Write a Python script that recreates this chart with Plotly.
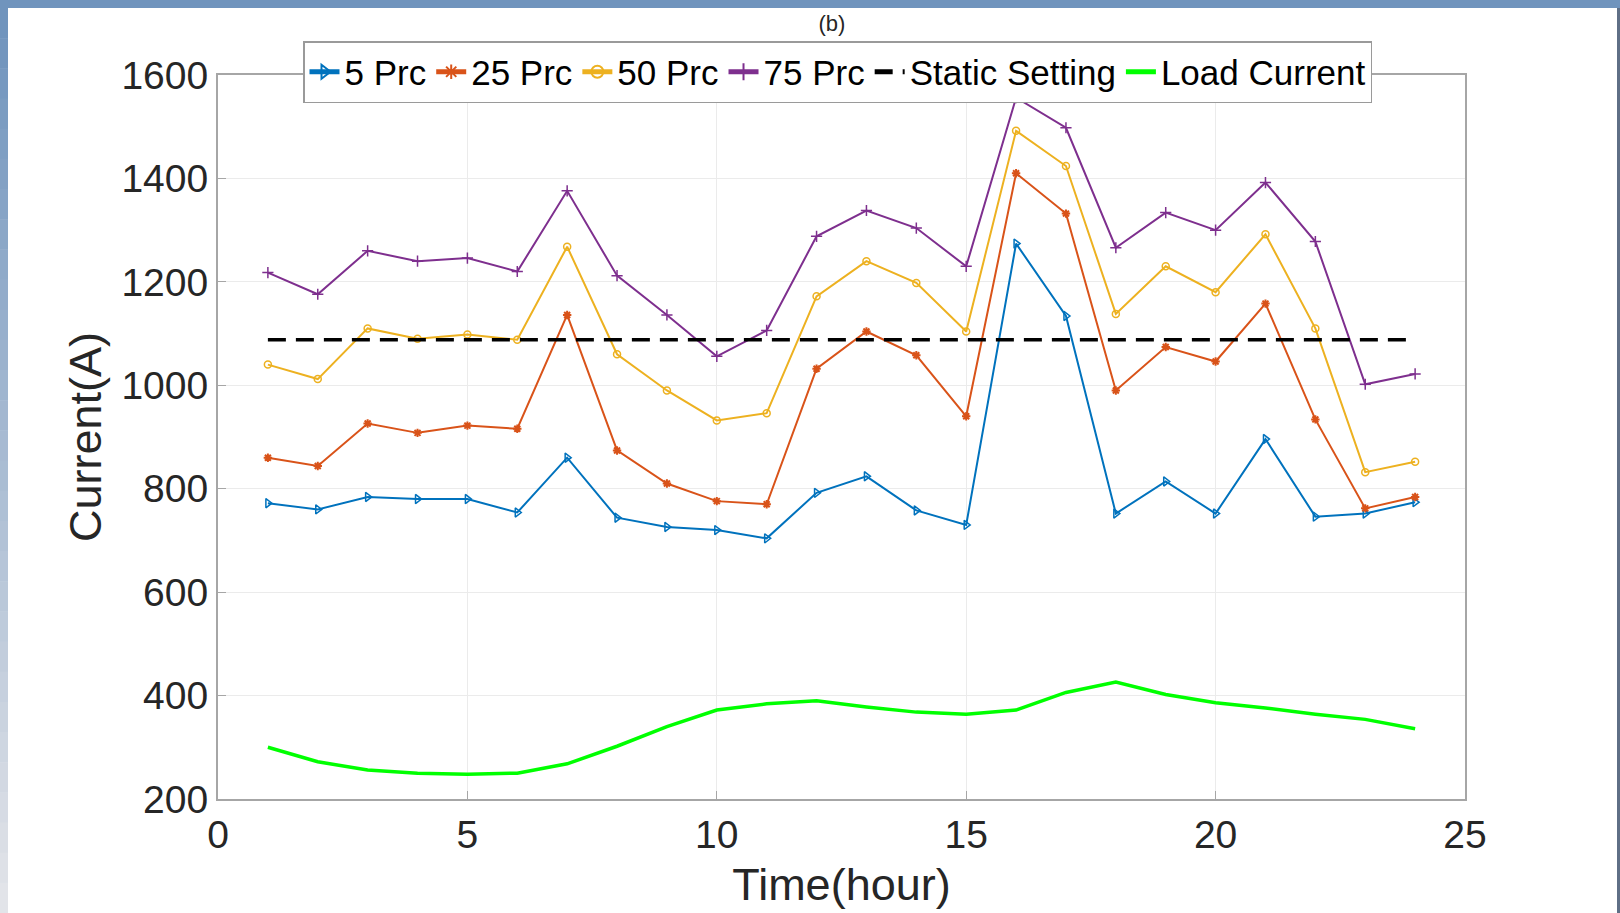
import plotly.graph_objects as go

hours = list(range(1, 25))
prc5 = [772, 760, 784, 780, 780, 754, 860, 744, 726, 720, 704, 792,
        824, 758, 730, 1274, 1134, 752, 814, 752, 896, 746, 752, 774]
prc25 = [860, 844, 926, 908, 922, 916, 1136, 874, 810, 776, 770, 1032,
         1104, 1058, 940, 1410, 1332, 990, 1074, 1046, 1158, 934, 762, 784]
prc50 = [1040, 1012, 1110, 1090, 1098, 1088, 1268, 1060, 990, 932, 946, 1172,
         1240, 1198, 1104, 1492, 1424, 1138, 1230, 1180, 1292, 1110, 832, 852]
prc75 = [1218, 1176, 1260, 1240, 1246, 1220, 1376, 1212, 1136, 1056, 1106, 1288,
         1338, 1304, 1230, 1556, 1498, 1266, 1334, 1300, 1392, 1278, 1002, 1022]
static_setting = [1088] * 24
load_current = [300, 272, 256, 250, 248, 250, 268, 302, 340, 372, 384, 390,
                378, 368, 364, 372, 406, 426, 402, 386, 376, 364, 354, 336]

x_ticks = [0, 5, 10, 15, 20, 25]
y_ticks = [200, 400, 600, 800, 1000, 1200, 1400, 1600]

FONT = "Liberation Sans, Arial, sans-serif"

fig = go.Figure()
fig.add_trace(go.Scatter(x=hours, y=prc5, name="5 Prc", mode="lines+markers",
                         line=dict(color="#0072BD", width=2),
                         marker=dict(symbol="triangle-right-open", size=8, color="#0072BD",
                                     line=dict(width=1.5))))
fig.add_trace(go.Scatter(x=hours, y=prc25, name="25 Prc", mode="lines+markers",
                         line=dict(color="#D95319", width=2),
                         marker=dict(symbol="asterisk-open", size=7, color="#D95319",
                                     line=dict(width=2, color="#D95319"))))
fig.add_trace(go.Scatter(x=hours, y=prc50, name="50 Prc", mode="lines+markers",
                         line=dict(color="#EDB120", width=2),
                         marker=dict(symbol="circle-open", size=7, color="#EDB120",
                                     line=dict(width=1.5))))
fig.add_trace(go.Scatter(x=hours, y=prc75, name="75 Prc", mode="lines+markers",
                         line=dict(color="#7E2F8E", width=2),
                         marker=dict(symbol="cross-thin-open", size=8, color="#7E2F8E",
                                     line=dict(width=1.5, color="#7E2F8E"))))
fig.add_trace(go.Scatter(x=hours, y=static_setting, name="Static Setting", mode="lines",
                         line=dict(color="black", width=3.5, dash="18px,10px")))
fig.add_trace(go.Scatter(x=hours, y=load_current, name="Load Current", mode="lines",
                         line=dict(color="#00FF00", width=3.5)))

# layout geometry
W, H = 1620, 913
L, R, T, B = 218, 155, 75, 114
pw, ph = W - L - R, H - T - B

def px(xp):
    return (xp - L) / pw

def py(yp):
    return 1 - (yp - T) / ph

shapes = []
shapes.append(dict(type="rect", xref="paper", yref="paper", x0=px(0), x1=px(W),
                   y0=py(8), y1=py(0), fillcolor="#7094bd", line=dict(width=0), layer="below"))
n = 30
c0 = (0x70, 0x94, 0xbd)
c1 = (0xe2, 0xe4, 0xe9)
for i in range(n):
    t = i / (n - 1)
    c = tuple(int(c0[k] + (c1[k] - c0[k]) * t) for k in range(3))
    y0 = 8 + (H - 8) * i / n
    y1 = 8 + (H - 8) * (i + 1) / n
    shapes.append(dict(type="rect", xref="paper", yref="paper", x0=px(0), x1=px(8),
                       y0=py(y1 + 0.5), y1=py(y0), fillcolor="rgb(%d,%d,%d)" % c,
                       line=dict(width=0), layer="below"))
shapes.append(dict(type="rect", xref="paper", yref="paper", x0=px(1617), x1=px(W),
                   y0=py(H), y1=py(8), fillcolor="#5f6f86", line=dict(width=0), layer="below"))

fig.update_layout(
    width=W, height=H,
    margin=dict(l=L, r=R, t=T, b=B),
    paper_bgcolor="white", plot_bgcolor="white",
    font=dict(family=FONT, color="#262626"),
    shapes=shapes,
    title=dict(text="(b)", x=832 / W, xanchor="center", y=1 - 23 / H, yanchor="middle",
               font=dict(size=22, color="#262626", family=FONT)),
    legend=dict(orientation="h", x=px(303), xanchor="left", y=py(41), yanchor="top",
                bgcolor="white", bordercolor="#9a9a9a", borderwidth=1.5,
                font=dict(size=35, color="black", family=FONT),
                itemwidth=30, tracegroupgap=0, itemsizing="constant"),
    xaxis=dict(range=[0, 25], tickvals=x_ticks, ticktext=[str(v) for v in x_ticks],
               showgrid=True, gridcolor="#ebebeb", gridwidth=1,
               showline=True, linecolor="#a6a6a6", linewidth=2, mirror=True,
               ticks="inside", ticklen=8, tickcolor="#a6a6a6",
               tickfont=dict(size=39, color="#262626"), zeroline=False,
               title=dict(text="Time(hour)", font=dict(size=45, color="#262626"), standoff=14)),
    yaxis=dict(range=[200, 1600], tickvals=y_ticks, ticktext=[str(v) for v in y_ticks],
               showgrid=True, gridcolor="#ebebeb", gridwidth=1,
               showline=True, linecolor="#a6a6a6", linewidth=2, mirror=True,
               ticks="inside", ticklen=8, tickcolor="#a6a6a6",
               tickfont=dict(size=39, color="#262626"), zeroline=False,
               title=dict(text="Current(A)", font=dict(size=45, color="#262626"), standoff=6)),
)

fig.write_html("out.html", config={"displayModeBar": False},
               post_script="document.body.style.margin='0';document.body.style.padding='0';")
